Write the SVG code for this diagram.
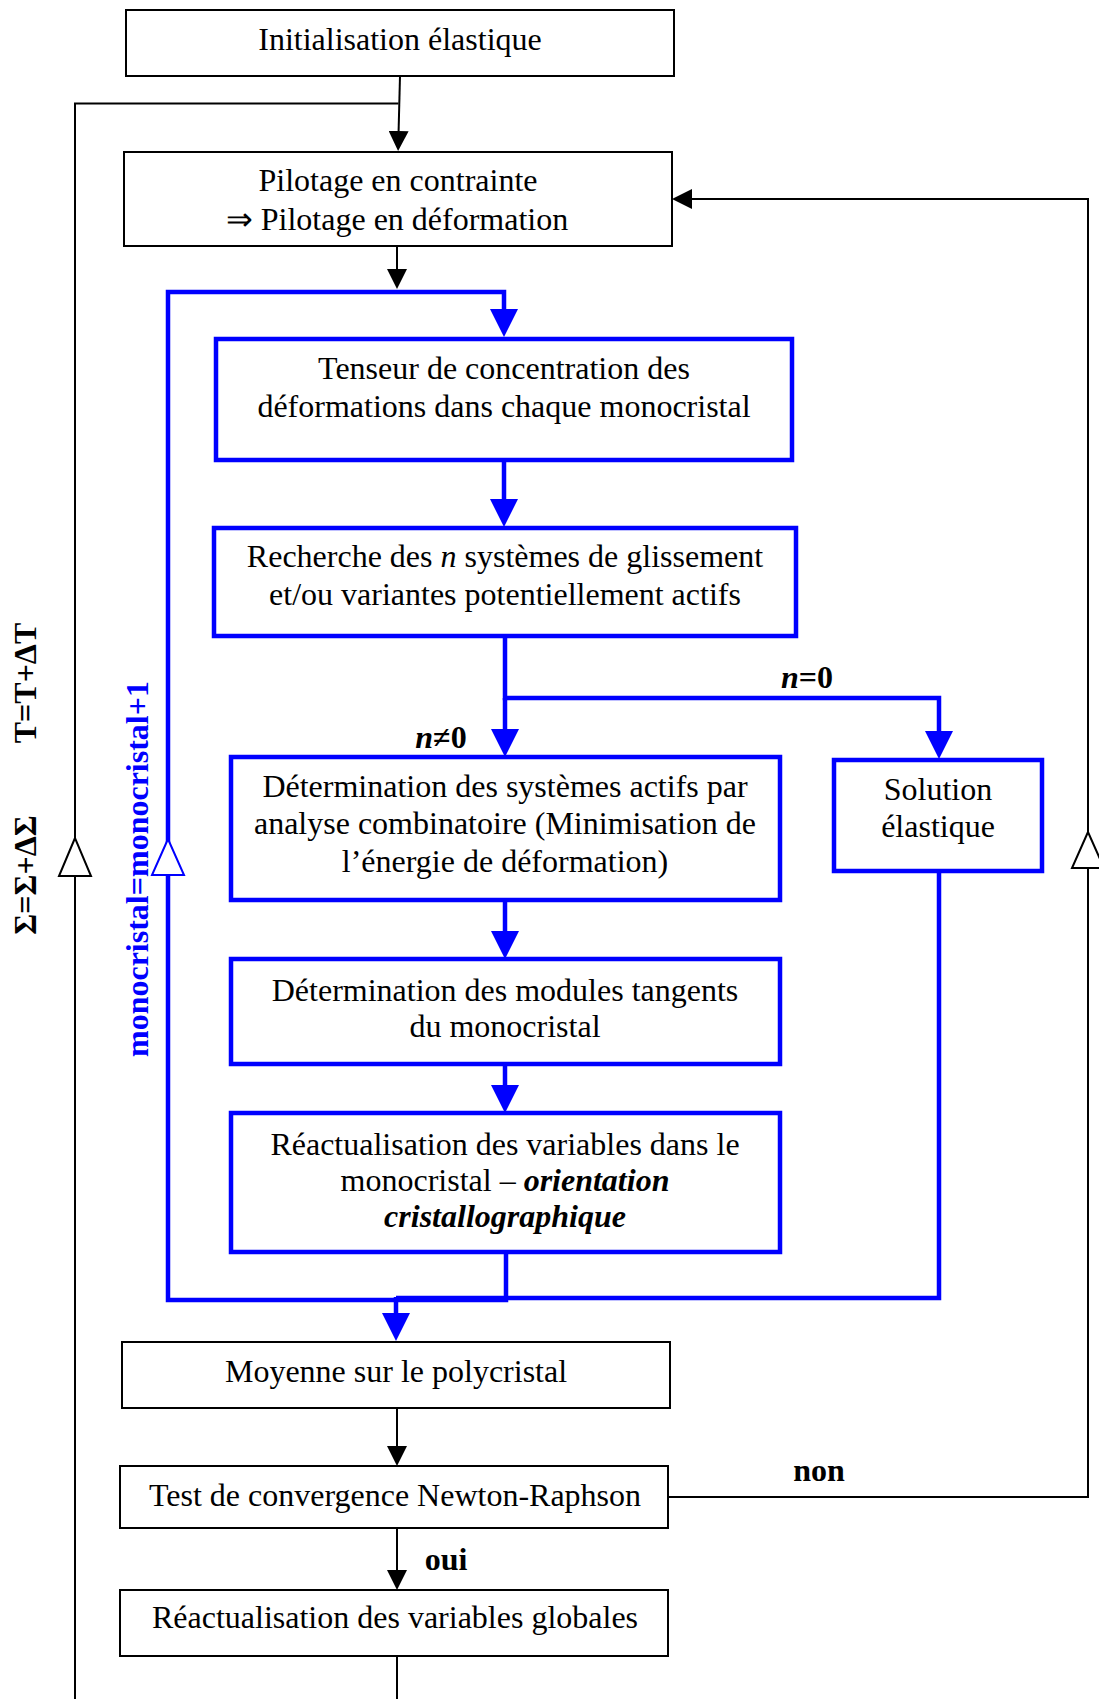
<svg xmlns="http://www.w3.org/2000/svg" width="1099" height="1699" viewBox="0 0 1099 1699">
<style>
text{font-family:"Liberation Serif","Times New Roman",serif;font-size:32px;fill:#000}
.c{text-anchor:middle}
.b{font-weight:bold}
.i{font-style:italic}
.bl{fill:#0000ff}
.kbox{fill:#fff;stroke:#000;stroke-width:2}
.bbox{fill:#fff;stroke:#0000ff;stroke-width:4.5}
.k{fill:none;stroke:#000;stroke-width:2}
.u{fill:none;stroke:#0000ff;stroke-width:4.5}
.ok{fill:#fff;stroke:#000;stroke-width:2}
.ou{fill:#fff;stroke:#0000ff;stroke-width:2}
</style>
<defs>
<marker id="ak" viewBox="0 0 20 20" refX="0" refY="10" markerWidth="20" markerHeight="20" markerUnits="userSpaceOnUse" orient="auto"><path d="M0,0 L20,10 L0,20 Z" fill="#000"/></marker>
<marker id="au" viewBox="0 0 28 28" refX="0" refY="14" markerWidth="28" markerHeight="28" markerUnits="userSpaceOnUse" orient="auto"><path d="M0,0 L28,14 L0,28 Z" fill="#0000ff"/></marker>
</defs>
<rect width="1099" height="1699" fill="#fff"/>
<g id="connectors">
<path class="k" d="M400,76 L398.6,131" marker-end="url(#ak)"/>
<path class="k" d="M398.5,103.5 H75 V1699"/>
<path class="k" d="M668,1497 H1088 V199 H692" marker-end="url(#ak)"/>
<path class="k" d="M397,246 V269" marker-end="url(#ak)"/>
<path class="k" d="M397,1408 V1446" marker-end="url(#ak)"/>
<path class="k" d="M397,1528 V1570" marker-end="url(#ak)"/>
<path class="k" d="M397,1656 V1699"/>
<path class="u" d="M506,1252 V1300 H168 V292 H504 V309" marker-end="url(#au)"/>
<path class="u" d="M504,460 V499" marker-end="url(#au)"/>
<path class="u" d="M505,636 V698 H939 V731" marker-end="url(#au)"/>
<path class="u" d="M505,698 V729" marker-end="url(#au)"/>
<path class="u" d="M505,900 V931" marker-end="url(#au)"/>
<path class="u" d="M505,1064 V1085" marker-end="url(#au)"/>
<path class="u" d="M939,871 V1298 H396"/>
<path class="u" d="M396,1297 V1313" marker-end="url(#au)"/>
<polygon class="ok" points="75,838 59,876 91,876"/>
<polygon class="ou" points="168,839 152,875 184,875"/>
<polygon class="ok" points="1088,832 1072,868 1104,868"/>
<text class="c b i" x="807" y="688">n<tspan font-style="normal">=0</tspan></text>
<text class="c b i" x="441" y="748">n<tspan font-style="normal">≠0</tspan></text>
<text class="c b" x="819" y="1481">non</text>
<text class="c b" x="446" y="1570">oui</text>
<text class="c b" font-size="30" transform="translate(36,683) rotate(-90)">T=T+ΔT</text>
<text class="c b" font-size="30" transform="translate(36,875) rotate(-90)">Σ=Σ+ΔΣ</text>
<text class="c b bl" font-size="31" transform="translate(148,869) rotate(-90)">monocristal=monocristal+1</text>
</g>
<g id="n1">
<rect class="kbox" x="126" y="10" width="548" height="66"/>
<text class="c" x="400" y="50">Initialisation élastique</text>
</g>
<g id="n2">
<rect class="kbox" x="124" y="152" width="548" height="94"/>
<text class="c" x="398" y="191">Pilotage en contrainte</text>
<text class="c" x="397" y="230">⇒ Pilotage en déformation</text>
</g>
<g id="n3">
<rect class="bbox" x="216" y="339" width="576" height="121"/>
<text class="c" x="504" y="379">Tenseur de concentration des</text>
<text class="c" x="504" y="417">déformations dans chaque monocristal</text>
</g>
<g id="n4">
<rect class="bbox" x="214" y="528" width="582" height="108"/>
<text class="c" x="505" y="567">Recherche des <tspan class="i">n</tspan> systèmes de glissement</text>
<text class="c" x="505" y="605">et/ou variantes potentiellement actifs</text>
</g>
<g id="n5">
<rect class="bbox" x="231" y="757" width="549" height="143"/>
<text class="c" x="505" y="797">Détermination des systèmes actifs par</text>
<text class="c" x="505" y="834">analyse combinatoire (Minimisation de</text>
<text class="c" x="505" y="872">l’énergie de déformation)</text>
</g>
<g id="n6">
<rect class="bbox" x="834" y="760" width="208" height="111"/>
<text class="c" x="938" y="800">Solution</text>
<text class="c" x="938" y="837">élastique</text>
</g>
<g id="n7">
<rect class="bbox" x="231" y="959" width="549" height="105"/>
<text class="c" x="505" y="1001">Détermination des modules tangents</text>
<text class="c" x="505" y="1037">du monocristal</text>
</g>
<g id="n8">
<rect class="bbox" x="231" y="1113" width="549" height="139"/>
<text class="c" x="505" y="1155">Réactualisation des variables dans le</text>
<text class="c" x="505" y="1191">monocristal – <tspan class="b i">orientation</tspan></text>
<text class="c b i" x="505" y="1227">cristallographique</text>
</g>
<g id="n9">
<rect class="kbox" x="122" y="1342" width="548" height="66"/>
<text class="c" x="396" y="1382">Moyenne sur le polycristal</text>
</g>
<g id="n10">
<rect class="kbox" x="120" y="1466" width="548" height="62"/>
<text class="c" x="395" y="1506">Test de convergence Newton-Raphson</text>
</g>
<g id="n11">
<rect class="kbox" x="120" y="1590" width="548" height="66"/>
<text class="c" x="395" y="1628">Réactualisation des variables globales</text>
</g>
</svg>
